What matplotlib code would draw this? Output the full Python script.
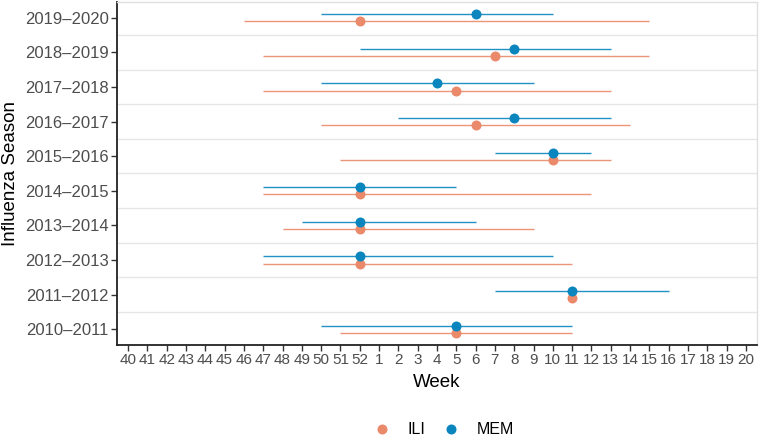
import numpy as np
import matplotlib
matplotlib.use('Agg')
import matplotlib.pyplot as plt
from matplotlib.lines import Line2D

plt.rcParams['font.family'] = ['Liberation Sans', 'DejaVu Sans']

# Werte
seasons = ['2010–2011', '2011–2012', '2012–2013', '2013–2014', '2014–2015',
           '2015–2016', '2016–2017', '2017–2018', '2018–2019', '2019–2020']
weeks = list(range(40, 53)) + list(range(1, 21))

# ILI: Start, Peak, Ende (Kalenderwoche)
ili_start = [51, 11, 47, 48, 47, 51, 50, 47, 47, 46]
ili_peak = [5, 11, 52, 52, 52, 10, 6, 5, 7, 52]
ili_end = [11, 11, 11, 9, 12, 13, 14, 13, 15, 15]

# MEM: Start, Peak, Ende
mem_start = [50, 7, 47, 49, 47, 7, 2, 50, 52, 50]
mem_peak = [5, 11, 52, 52, 52, 10, 8, 4, 8, 6]
mem_end = [11, 16, 10, 6, 5, 12, 13, 9, 13, 10]

c_ili = '#EA8A6B'
c_mem = '#0A85BD'

def pos(w):
    return [weeks.index(x) for x in w]

fig = plt.figure(figsize=(7.6, 4.42), dpi=100)
ax = fig.add_axes([117/760, 97/442, 640/760, 343/442])

y = np.arange(len(seasons))
off = 0.105

ax.hlines(y - off, pos(ili_start), pos(ili_end), color=c_ili, lw=1.0, alpha=0.9, zorder=2)
ax.hlines(y + off, pos(mem_start), pos(mem_end), color=c_mem, lw=1.0, alpha=0.9, zorder=2)
ax.plot(pos(ili_peak), y - off, 'o', color=c_ili, ms=7.2, mec='none', zorder=3)
ax.plot(pos(mem_peak), y + off, 'o', color=c_mem, ms=7.2, mec='none', zorder=3)

# Gitterlinien zwischen den Saisons
for k in range(len(seasons) - 1):
    ax.axhline(k + 0.5, color='#e6e6e6', lw=1.0, zorder=1)

ax.set_xlim(-0.57, len(weeks) - 1 + 0.57)
ax.set_ylim(-0.45, len(seasons) - 1 + 0.45)
ax.set_xticks(range(len(weeks)))
ax.set_xticklabels([str(w) for w in weeks])
ax.set_yticks(y)
ax.set_yticklabels(seasons)

ax.tick_params(axis='x', labelsize=11, labelcolor='#4d4d4d', length=4, width=1, color='#333333', pad=2)
ax.tick_params(axis='y', labelsize=12, labelcolor='#4d4d4d', length=4, width=1, color='#333333', pad=2)

for s in ['left', 'bottom']:
    ax.spines[s].set_color('#222222')
    ax.spines[s].set_linewidth(1.3)
for s in ['top', 'right']:
    ax.spines[s].set_color('#e0e0e0')
    ax.spines[s].set_linewidth(1.0)

ax.set_xlabel('Week', fontsize=13.5, labelpad=5)
ax.set_ylabel('Influenza Season', fontsize=13.5, labelpad=4)

handles = [Line2D([], [], marker='o', ls='none', color=c_ili, ms=7.2, mec='none', label='ILI'),
           Line2D([], [], marker='o', ls='none', color=c_mem, ms=7.2, mec='none', label='MEM')]
fig.legend(handles=handles, loc='center', bbox_to_anchor=(440/760, 12/442), ncol=2,
           frameon=False, fontsize=11.5, handletextpad=0.6, columnspacing=0.6)

plt.savefig('out.png', dpi=100)
